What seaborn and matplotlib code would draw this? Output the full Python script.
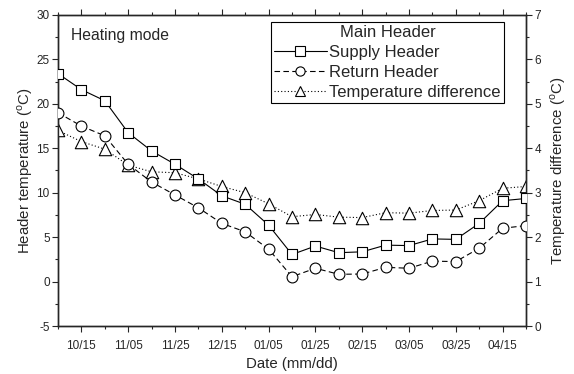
import numpy as np
import matplotlib
matplotlib.use('Agg')
import matplotlib.pyplot as plt
import seaborn as sns
from matplotlib.ticker import MultipleLocator, FixedLocator
from matplotlib.lines import Line2D

# data (21 points, roughly every 10 days)
idx = list(range(21))
tick_pos = [1, 3, 5, 7, 9, 11, 13, 15, 17, 19]
tick_labels = ['10/15', '11/05', '11/25', '12/15', '01/05', '01/25',
               '02/15', '03/05', '03/25', '04/15']
supply = [23.4, 21.6, 20.35, 16.75, 14.7, 13.2, 11.55, 9.65, 8.7, 6.35, 3.05,
          4.0, 3.25, 3.35, 4.1, 4.05, 4.8, 4.75, 6.55, 9.1, 9.35]
ret = [19.0, 17.5, 16.4, 13.2, 11.2, 9.75, 8.3, 6.55, 5.6, 3.65, 0.55,
       1.5, 0.82, 0.85, 1.6, 1.5, 2.3, 2.25, 3.75, 6.0, 6.3]
diff = [4.4, 4.15, 3.98, 3.62, 3.47, 3.45, 3.31, 3.14, 3.0, 2.75, 2.46,
        2.51, 2.45, 2.44, 2.55, 2.54, 2.6, 2.61, 2.82, 3.1, 3.14]

sns.set_style('ticks')
plt.rcParams['font.family'] = ['Liberation Sans', 'DejaVu Sans']
plt.rcParams['mathtext.fontset'] = 'custom'
plt.rcParams['mathtext.rm'] = 'Liberation Sans'
plt.rcParams['axes.linewidth'] = 1.0
plt.rcParams['axes.unicode_minus'] = False

fig = plt.figure(figsize=(5.74, 3.74), dpi=100)
ax = fig.add_axes([0.101, 0.1283, 0.8154, 0.8317])
ax2 = ax.twinx()

series = [
    (ax, supply, 's', 61, '-', 'Supply Header'),
    (ax, ret, 'o', 61, (0, (5, 3)), 'Return Header'),
    (ax2, diff, '^', 80, (0, (1, 2)), 'Temperature difference'),
]
handles = []
for a, vals, m, s, ls, name in series:
    sns.lineplot(x=idx, y=vals, ax=a, color='black', linewidth=0.8,
                 linestyle=ls, legend=False)
    # markers as scatter, clipped at the frame
    sns.scatterplot(x=idx, y=vals, ax=a, marker=m, s=s, color='white',
                    edgecolor='black', linewidth=0.8, zorder=3, legend=False)
    handles.append(Line2D([], [], color='black', linewidth=0.8, linestyle=ls,
                          marker=m, markersize=np.sqrt(s) * 0.85,
                          markerfacecolor='white', markeredgecolor='black',
                          markeredgewidth=0.8, label=name))

ax.set_xlim(0, 20)
ax.set_ylim(-5, 30)
ax2.set_ylim(0, 7)

ax.xaxis.set_major_locator(FixedLocator(tick_pos))
ax.set_xticklabels(tick_labels)
ax.xaxis.set_minor_locator(FixedLocator([i for i in idx if i not in tick_pos]))
ax.yaxis.set_major_locator(MultipleLocator(5))
ax.yaxis.set_minor_locator(MultipleLocator(2.5))
ax2.yaxis.set_major_locator(MultipleLocator(1))
ax2.yaxis.set_minor_locator(MultipleLocator(0.5))

ax.tick_params(axis='both', which='major', direction='out', length=4,
               width=0.8, labelsize=8.5, pad=2)
ax.tick_params(axis='both', which='minor', direction='out', length=2.5,
               width=0.8)
ax.tick_params(axis='x', which='both', top=True)
ax.tick_params(axis='x', which='major', pad=6)
ax2.tick_params(axis='y', which='major', direction='out', length=4,
                width=0.8, labelsize=8.5, pad=2)
ax2.tick_params(axis='y', which='minor', direction='out', length=2.5,
                width=0.8)

ax.set_xlabel('Date (mm/dd)', fontsize=10.8, labelpad=4)
ax.set_ylabel(r'Header temperature ($^{\rm o}$C)', fontsize=10.8, labelpad=1)
ax2.set_ylabel(r'Temperature difference ($^{\rm o}$C)', fontsize=10.8,
               labelpad=5)

ax.text(0.028, 0.935, 'Heating mode', transform=ax.transAxes,
        fontsize=11.3, va='center', ha='left')

leg = ax.legend(handles=handles, title='Main Header', loc='upper right',
                bbox_to_anchor=(0.953, 0.978), fontsize=12,
                title_fontsize=12, frameon=True, fancybox=False,
                edgecolor='black', handlelength=3.15, handletextpad=0.15,
                borderpad=0.2, labelspacing=0.3, borderaxespad=0)
leg.get_frame().set_linewidth(0.8)
leg.get_frame().set_alpha(1)
ax2.set_zorder(0)
ax.set_zorder(1)
ax.patch.set_visible(False)

fig.savefig('out.png', dpi=100)
